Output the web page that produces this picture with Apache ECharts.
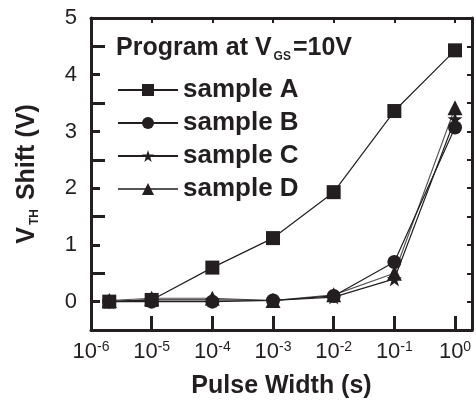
<!DOCTYPE html>
<html>
<head>
<meta charset="utf-8">
<script src="https://cdn.jsdelivr.net/npm/echarts@6/dist/echarts.min.js"></script>
<style>
html,body{margin:0;padding:0;background:#fff;}
#chart{width:476px;height:405px;}
</style>
</head>
<body>
<div id="chart"></div>
<script>
const pulseWidth = [2e-6, 1e-5, 1e-4, 1e-3, 1e-2, 1e-1, 1];
const sampleA = [0, 0.03, 0.6, 1.12, 1.93, 3.36, 4.43];
const sampleB = [0, 0, 0, 0.02, 0.1, 0.7, 3.07];
const sampleC = [0, 0.03, 0.03, 0.02, 0.08, 0.4, 3.22];
const sampleD = [0.02, 0.06, 0.06, 0.02, 0.12, 0.5, 3.42];
const seriesNames = ['sample A', 'sample B', 'sample C', 'sample D'];
const seriesSymbols = ['rect', 'circle', 'path://M50,0 L61.8,36.2 L100,36.2 L69.1,58.8 L80.9,95.1 L50,72.7 L19.1,95.1 L30.9,58.8 L0,36.2 L38.2,36.2 Z', 'triangle'];
const yTicks = [0, 1, 2, 3, 4, 5];

const FONT = '"Liberation Sans", Arial, Helvetica, sans-serif';
const INK = '#231f20';

function pairs(ys) { return pulseWidth.map((x, i) => [x, ys[i]]); }

const chart = echarts.init(document.getElementById('chart'), null, {renderer: 'canvas'});

const allData = [sampleA, sampleB, sampleC, sampleD];
const series = allData.map((ys, i) => ({
  name: seriesNames[i],
  type: 'line',
  data: pairs(ys),
  symbol: seriesSymbols[i],
  symbolSize: i === 2 ? 15 : (i === 3 ? 15 : 14),
  lineStyle: {color: i === 3 ? '#555' : INK, width: 1.2},
  itemStyle: {color: INK},
  z: 10 - i,
  animation: false
}));

const commonLine = {show: true, onZero: false, lineStyle: {color: INK, width: 3}};

const option = {
  animation: false,
  backgroundColor: '#fff',
  textStyle: {fontFamily: FONT},
  grid: {left: 91, right: 4, top: 18, bottom: 75, show: false},
  title: {
    text: 'Program at V{sub|GS}=10V',
    left: 111, top: 28,
    textStyle: {
      fontFamily: FONT, fontSize: 25, fontWeight: 'bold', color: INK,
      rich: {sub: {fontFamily: FONT, fontSize: 12, fontWeight: 'bold', color: INK, verticalAlign: 'bottom', padding: [18, 2, 0, 2]}}
    }
  },
  legend: {
    orient: 'vertical',
    left: 112, top: 72,
    itemWidth: 60, itemHeight: 15, itemGap: 7,
    data: seriesNames,
    textStyle: {fontFamily: FONT, fontSize: 26, fontWeight: 'bold', color: INK, lineHeight: 23, padding: [0, 0, 0, 0]}
  },
  xAxis: [{
    type: 'log', logBase: 10,
    min: 1e-6, max: 1.905,
    position: 'bottom',
    name: 'Pulse Width (s)',
    nameLocation: 'middle', nameGap: 44,
    nameTextStyle: {fontFamily: FONT, fontSize: 25, fontWeight: 'bold', color: INK},
    axisLine: commonLine,
    axisTick: {show: true, inside: true, length: 14, lineStyle: {color: INK, width: 3}},
    minorTick: {show: false},
    splitLine: {show: false},
    axisLabel: {
      margin: 10, color: INK, fontFamily: FONT, fontSize: 22,
      formatter: function (v) {
        const e = Math.log10(v);
        const r = Math.round(e);
        if (Math.abs(e - r) > 1e-6) return '';
        return '10{sup|' + r + '}';
      },
      rich: {sup: {fontFamily: FONT, fontSize: 14, color: INK, verticalAlign: 'top', padding: [0, 0, 10, 0]}}
    }
  }, {
    type: 'log', logBase: 10,
    min: 1e-6, max: 1.905,
    position: 'top',
    axisLine: commonLine,
    axisTick: {show: true, inside: true, length: 5, lineStyle: {color: INK, width: 2}},
    axisLabel: {show: false},
    splitLine: {show: false}
  }],
  yAxis: [{
    type: 'value',
    min: -0.5, max: 5, interval: 0.5,
    name: 'V{sub|TH} Shift (V)',
    nameLocation: 'middle', nameGap: 50, nameRotate: 90,
    nameTextStyle: {
      fontFamily: FONT, fontSize: 25, fontWeight: 'bold', color: INK,
      rich: {sub: {fontFamily: FONT, fontSize: 12, fontWeight: 'bold', color: INK, verticalAlign: 'bottom', padding: [16, 2, 0, 2]}}
    },
    axisLine: commonLine,
    axisTick: {show: false},
    splitLine: {show: false},
    axisLabel: {
      margin: 14, color: INK, fontFamily: FONT, fontSize: 22,
      formatter: function (v) { return yTicks.indexOf(v) >= 0 ? String(v) : ''; }
    }
  }, {
    type: 'value',
    min: -0.5, max: 5, interval: 0.5,
    position: 'right',
    axisLine: commonLine,
    axisTick: {show: true, inside: true, length: 5, lineStyle: {color: INK, width: 2}},
    axisLabel: {show: false},
    splitLine: {show: false}
  }, {
    type: 'value',
    min: -0.5, max: 5, interval: 1,
    position: 'left',
    axisLine: {show: false, onZero: false},
    axisTick: {show: true, inside: true, length: 14, lineStyle: {color: INK, width: 3}},
    axisLabel: {show: false},
    splitLine: {show: false}
  }, {
    type: 'value',
    min: -0.5, max: 5, interval: 0.5,
    position: 'left',
    axisLine: {show: false, onZero: false},
    axisTick: {show: true, inside: true, length: 9, lineStyle: {color: INK, width: 3}},
    axisLabel: {show: false},
    splitLine: {show: false}
  }],
  series: series
};

chart.setOption(option);
</script>
</body>
</html>
